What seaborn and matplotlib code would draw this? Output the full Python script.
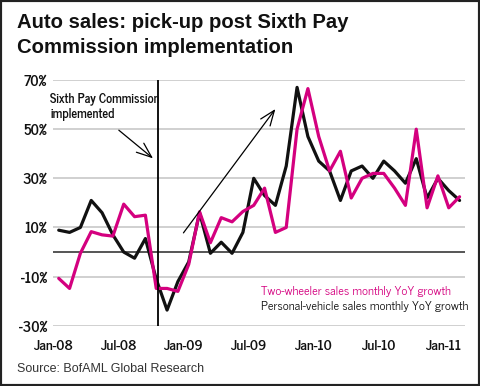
import matplotlib
matplotlib.use("Agg")
import matplotlib.pyplot as plt
from matplotlib.patches import Rectangle
import seaborn as sns
import pandas as pd
import numpy as np

# ---- data ----
months = list(pd.date_range("2008-01-01", periods=38, freq="MS").strftime("%b-%y"))
two_wheeler = [-10.7, -14.8, -0.5, 8.3, 7.0, 6.5, 19.5, 14.4, 15.0, -14.8,
               -14.8, -16.0, -5.0, 16.4, 3.8, 14.0, 12.3, 16.5, 19.0, 26.0,
               8.0, 10.0, 50.0, 66.5, 47.0, 33.0, 41.0, 22.0, 30.0, 32.0,
               32.0, 26.0, 19.0, 50.0, 18.0, 31.0, 18.0, 22.5]
personal_vehicle = [8.9, 8.0, 10.0, 21.0, 16.0, 7.0, 0.0, -2.5, 5.5, -11.0,
                    -23.6, -12.0, -4.0, 16.0, -0.5, 4.0, -0.5, 8.0, 30.0, 23.0,
                    19.0, 35.0, 67.0, 47.0, 37.0, 33.0, 21.0, 33.0, 35.0, 30.0,
                    37.0, 33.0, 28.0, 38.0, 22.0, 30.0, 25.0, 21.0]
series_names = ["Two-wheeler sales monthly YoY growth",
                "Personal-vehicle sales monthly YoY growth"]
tick_labels = ["Jan-08", "Jul-08", "Jan-09", "Jul-09", "Jan-10", "Jul-10", "Jan-11"]
y_ticks = [-30, -10, 10, 30, 50, 70]
pay_commission_month = 9.2  # month index of implementation (Oct-08)

PINK = "#d4007f"
BLACK = "#111111"
NARROW = ["News Cycle", "PT Sans Narrow", "Liberation Sans", "DejaVu Sans"]
WIDE = ["Liberation Sans", "DejaVu Sans"]

df = pd.concat([
    pd.DataFrame({"pos": np.arange(len(months)) + 0.5, "value": two_wheeler,
                  "series": series_names[0]}),
    pd.DataFrame({"pos": np.arange(len(months)) + 0.5, "value": personal_vehicle,
                  "series": series_names[1]}),
])

sns.set_theme(style="white")
plt.rcParams["font.family"] = NARROW

W, H = 480, 386
fig = plt.figure(figsize=(W / 100, H / 100), dpi=100)
fig.patch.set_facecolor("white")
ax = fig.add_axes([53.3 / W, 60.2 / H, 411.7 / W, 245.8 / H])

# gridlines
for yv in y_ticks:
    ax.axhline(yv, color="#c4c4c4", lw=1.1, zorder=0)
ax.axhline(0, color="#555555", lw=1.4, zorder=1)

sns.lineplot(data=df, x="pos", y="value", hue="series",
             palette={series_names[0]: PINK, series_names[1]: BLACK},
             hue_order=[series_names[1], series_names[0]],
             lw=2.3, legend=False, ax=ax, zorder=3)
for line in ax.lines:
    line.set_solid_joinstyle("round")
    line.set_solid_capstyle("round")

ax.axvline(pay_commission_month + 0.5, ymin=0, ymax=1, color="black", lw=1.3, zorder=4)

ax.set_xlim(0, 38)
ax.set_ylim(-30, 70)
ax.set_xticks([0, 6, 12, 18, 24, 30, 36])
ax.set_xticklabels(tick_labels)
ax.set_yticks(y_ticks)
ax.set_yticklabels([f"{v}%" for v in y_ticks])
ax.set_xlabel("")
ax.set_ylabel("")
for s in ax.spines.values():
    s.set_visible(False)
ax.tick_params(axis="x", direction="out", length=5, width=1.2, color="#555555",
               pad=5.5, labelsize=10.3, labelcolor="#111111")
ax.tick_params(axis="y", length=0, pad=4.5, labelsize=10.5, labelcolor="#111111")
for lab in ax.get_xticklabels() + ax.get_yticklabels():
    lab.set_fontweight("bold")
ax.set_facecolor("white")

# annotations
ax.text(-0.3, 65.0, "Sixth Pay Commission\nimplemented", fontsize=9.0,
        fontweight="bold", color="#111111", va="top", ha="left",
        linespacing=1.3, clip_on=False, zorder=5)
ax.annotate("", xy=(9.4, 37.4), xytext=(5.85, 50.3),
            arrowprops=dict(arrowstyle="->,head_length=0.9,head_width=0.35",
                            color="black", lw=0.9), zorder=5)
ax.annotate("", xy=(20.65, 59.1), xytext=(11.86, 6.9),
            arrowprops=dict(arrowstyle="->,head_length=0.9,head_width=0.35",
                            color="black", lw=0.9), zorder=5)

ax.text(19.2, -15.9, series_names[0], color=PINK, fontsize=8.9,
        va="center", ha="left", zorder=5)
ax.text(19.2, -22.3, series_names[1], color=BLACK, fontsize=8.9,
        va="center", ha="left", zorder=5)

# title & source
fig.text(17 / W, 1 - 28 / H, "Auto sales: pick-up post Sixth Pay",
         fontsize=14.6, fontweight="bold", color="#111111", va="baseline", ha="left",
         family=WIDE)
fig.text(17 / W, 1 - 53 / H, "Commission implementation",
         fontsize=14.6, fontweight="bold", color="#111111", va="baseline", ha="left",
         family=WIDE)
fig.text(17 / W, 1 - 372 / H, "Source: BofAML Global Research",
         fontsize=9.0, color="#333333", va="baseline", ha="left",
         family=WIDE)

fig.patches.append(Rectangle((0, 0), 1, 1, transform=fig.transFigure,
                             fill=False, lw=3, ec="#222222"))

fig.savefig("out.png", dpi=100)
